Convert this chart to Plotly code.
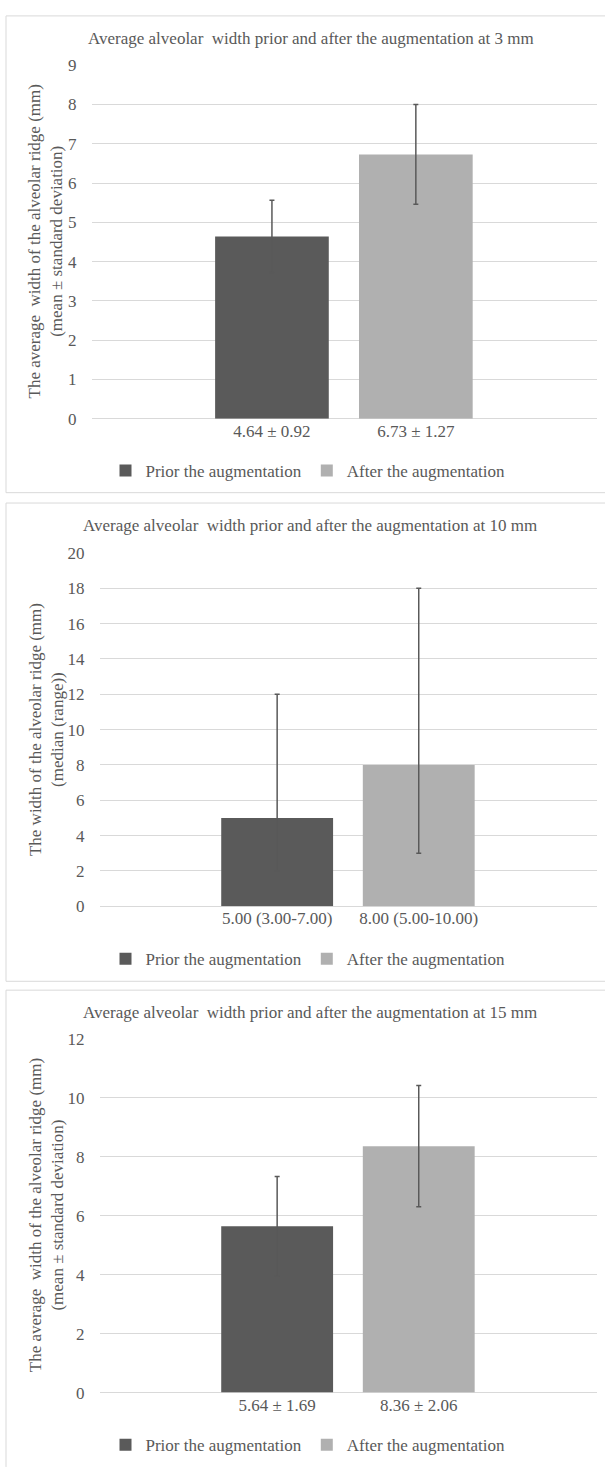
import plotly.graph_objects as go

# ---- data ----
series_names = ["Prior the augmentation", "After the augmentation"]

cats_3mm = ["4.64 ± 0.92", "6.73 ± 1.27"]
mean_3mm = [4.64, 6.73]
sd_3mm = [0.92, 1.27]

cats_10mm = ["5.00 (3.00-7.00)", "8.00 (5.00-10.00)"]
median_10mm = [5.00, 8.00]
err_minus_10mm = [3.00, 5.00]
err_plus_10mm = [7.00, 10.00]

cats_15mm = ["5.64 ± 1.69", "8.36 ± 2.06"]
mean_15mm = [5.64, 8.36]
sd_15mm = [1.69, 2.06]

titles = [
    "Average alveolar  width prior and after the augmentation at 3 mm",
    "Average alveolar  width prior and after the augmentation at 10 mm",
    "Average alveolar  width prior and after the augmentation at 15 mm",
]
ytitles = [
    "The average  width of the alveolar ridge (mm)<br>(mean ± standard deviation)",
    "The width of the alveolar ridge (mm)<br>(median (range))",
    "The average  width of the alveolar ridge (mm)<br>(mean ± standard deviation)",
]
y_max = [9, 20, 12]
y_dtick = [1, 2, 2]

# ---- styling ----
W, H = 605, 1472
FONT = "Liberation Serif, Times New Roman, serif"
TXT = "#595959"
GRID = "#d9d9d9"
FS = 17
bar_colors = ["#5a5a5a", "#b0b0b0"]

def px(v):
    return v / W

def py(v):
    return 1 - v / H

panels = [
    dict(cats=cats_3mm, vals=mean_3mm, plus=sd_3mm, minus=sd_3mm,
         xl=91.5, top=57, bot=415, title_y=30, title_x=310.5, ytx=45.5,
         leg_y=468, leg_x=308, box=(6, 7, 490)),
    dict(cats=cats_10mm, vals=median_10mm, plus=err_plus_10mm, minus=err_minus_10mm,
         xl=99.6, top=551, bot=909, title_y=523, title_x=309.5, ytx=46.5,
         leg_y=962.7, leg_x=308, box=(6, 500.5, 985)),
    dict(cats=cats_15mm, vals=mean_15mm, plus=sd_15mm, minus=sd_15mm,
         xl=99.6, top=1043.3, bot=1401.7, title_y=1016.7, title_x=309.5, ytx=46.5,
         leg_y=1455, leg_x=308, box=(6, 994, None)),
]

fig = go.Figure()
layout = dict(
    width=W, height=H,
    margin=dict(l=0, r=0, t=0, b=0),
    paper_bgcolor="white", plot_bgcolor="white",
    barmode="overlay",
    font=dict(family=FONT, color=TXT, size=FS),
    annotations=[], shapes=[],
)

def border_line(x0, y0, x1, y1):
    return dict(type="line", xref="paper", yref="paper",
                x0=px(x0), x1=px(x1), y0=py(y0), y1=py(y1),
                line=dict(color=GRID, width=1), layer="below")

for p_i, p in enumerate(panels):
    sfx = "" if p_i == 0 else str(p_i + 1)
    legname = "legend" + sfx
    for i in range(2):
        fig.add_trace(go.Bar(
            x=[p["cats"][i]], y=[p["vals"][i]],
            name=series_names[i],
            marker=dict(color=bar_colors[i], line=dict(width=0)),
            width=0.79,
            error_y=dict(type="data", symmetric=False,
                         array=[p["plus"][i]], arrayminus=[p["minus"][i]],
                         color="#595959", thickness=1.5, width=2.5),
            xaxis="x" + sfx, yaxis="y" + sfx,
            legend=legname,
            showlegend=True,
        ))
    layout["xaxis" + sfx] = dict(
        domain=[px(p["xl"]), px(597)],
        anchor="y" + sfx,
        type="category",
        categoryorder="array", categoryarray=p["cats"],
        range=[-1.254, 2.259],
        showgrid=False, showline=False, zeroline=False, ticks="",
        tickfont=dict(family=FONT, color=TXT, size=FS),
        ticklabelstandoff=0,
        fixedrange=True,
    )
    layout["yaxis" + sfx] = dict(
        domain=[py(p["bot"]), py(p["top"])],
        anchor="x" + sfx,
        range=[0, y_max[p_i]],
        dtick=y_dtick[p_i], tick0=0,
        showgrid=True, gridcolor=GRID, gridwidth=1,
        zeroline=True, zerolinecolor=GRID, zerolinewidth=1,
        showline=False, ticks="",
        tickfont=dict(family=FONT, color=TXT, size=FS),
        ticklabelstandoff=14,
        fixedrange=True,
    )
    layout[legname] = dict(
        orientation="h",
        x=px(p["leg_x"]), xanchor="center",
        y=py(p["leg_y"]), yanchor="middle",
        font=dict(family=FONT, color=TXT, size=FS),
        bgcolor="rgba(0,0,0,0)",
        traceorder="normal",
    )
    layout["annotations"].append(dict(
        text=titles[p_i], x=px(p["title_x"]), y=py(p["title_y"]),
        xref="paper", yref="paper", xanchor="center", yanchor="middle",
        showarrow=False, font=dict(family=FONT, color=TXT, size=FS),
    ))
    layout["annotations"].append(dict(
        text=ytitles[p_i], x=px(p["ytx"]), y=py((p["top"] + p["bot"]) / 2),
        xref="paper", yref="paper", xanchor="center", yanchor="middle",
        textangle=-90, showarrow=False,
        font=dict(family=FONT, color=TXT, size=FS),
    ))
    bx0, by0, by1 = p["box"]
    bottom = by1 if by1 is not None else H + 5
    layout["shapes"].append(border_line(bx0, by0, W + 5, by0))      # top
    layout["shapes"].append(border_line(bx0, by0, bx0, bottom))     # left
    if by1 is not None:
        layout["shapes"].append(border_line(bx0, by1, W + 5, by1))  # bottom

fig.update_layout(**layout)
fig.write_html(
    "out.html",
    config={"displayModeBar": False},
    post_script="document.body.style.margin='0';document.body.style.overflow='hidden';",
)
